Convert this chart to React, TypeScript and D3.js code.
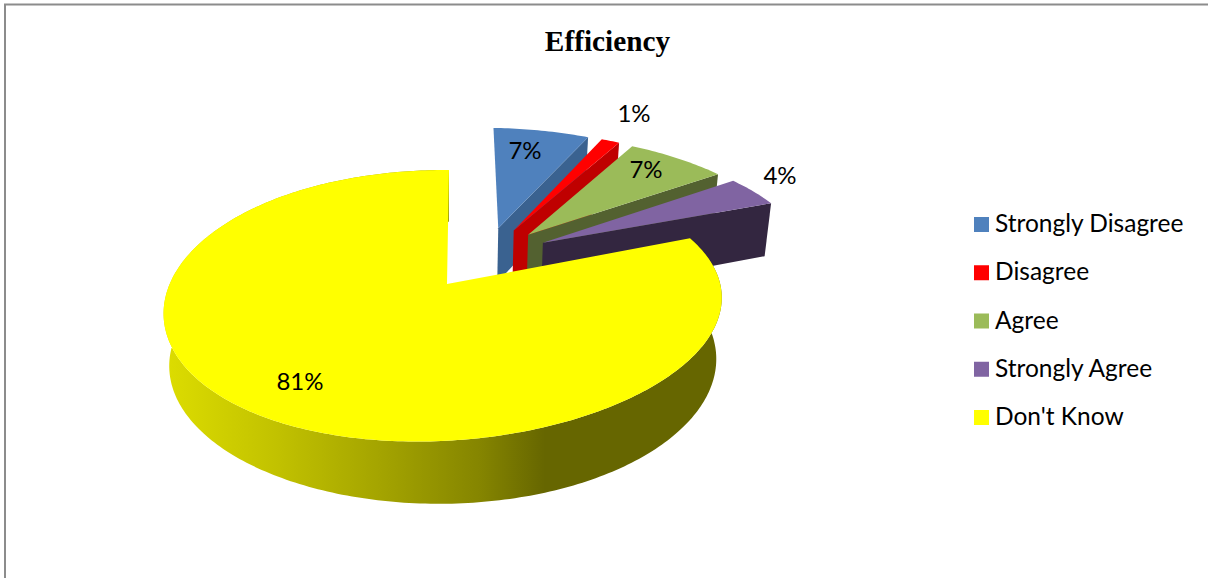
import * as d3 from 'd3';

const categories = ['Strongly Disagree', 'Disagree', 'Agree', 'Strongly Agree', "Don't Know"];
const shares = [6.8, 1.3, 7.2, 4.1, 80.6];
const labels = ['7%', '1%', '7%', '4%', '81%'];
const topColors = ['#4f81bd', '#ff0000', '#9bbb59', '#8064a2', '#ffff00'];
const wallColors = ['#3a6290', '#bf0000', '#536130', '#332640', 'url(#rim)'];
const labelSpots = [[525, 149.5], [634, 112.5], [646, 168.5], [780, 174.5], [300, 380.5]];
const rimStops = [
  [168, '#dcdc00'], [275, '#c2c200'], [380, '#a4a400'], [480, '#858500'], [545, '#666600'], [722, '#666600'],
];

const width = 1208;
const height = 578;

// view of the pie plane, origin on the apex of the big slice
const view = { x0: 447, y0: 284, a: 275.5, b: 132, k: 0.1586, j: -0.014, shear: -2.3, tilt: -5.5 };
const drop = { sx: 0.98, sy: 1.042, dy: 56.4, roll: 0.025 };
const explode = 0.25;
const smallReach = 1.015;

function project(u: number, v: number): [number, number] {
  const w = 1 - view.k * v - view.j * u;
  return [
    view.x0 + (view.a * u + view.shear * v) / w,
    view.y0 + (view.b * v + view.tilt * u * (1 + v)) / w,
  ];
}

function lower([x, y]: [number, number]): [number, number] {
  const dx = x - view.x0;
  const dy = y - view.y0;
  const lift = drop.roll * dx * Math.max(0, (dy + 80) / 150);
  return [view.x0 + dx * drop.sx, view.y0 + dy * drop.sy + drop.dy + lift];
}

const pie = d3.pie<number>().sort(null).value((d) => d);
const arcs = pie(shares);
const line = d3.line();

const last = arcs[arcs.length - 1];
const lastMid = (last.startAngle + last.endAngle) / 2;
const hub: [number, number] = [-explode * Math.sin(lastMid), explode * Math.cos(lastMid)];

const legendY = d3.scalePoint<string>().domain(categories).range([224.5, 417.5]);

function slicePaths(d: d3.PieArcDatum<number>, reach: number) {
  const mid = (d.startAngle + d.endAngle) / 2;
  const cu = hub[0] + explode * Math.sin(mid);
  const cv = hub[1] - explode * Math.cos(mid);
  const steps = Math.max(8, Math.ceil((d.endAngle - d.startAngle) * 60));
  const rimTop = d3.range(steps + 1).map((i) => {
    const t = d.startAngle + ((d.endAngle - d.startAngle) * i) / steps;
    return project(cu + reach * Math.sin(t), cv - reach * Math.cos(t));
  });
  const apex = project(cu, cv);
  const corner = rimTop[rimTop.length - 1];
  return {
    top: line([apex, ...rimTop])! + 'Z',
    rim: line([...rimTop, ...rimTop.map(lower).reverse()])! + 'Z',
    side: line([apex, corner, lower(corner), lower(apex)])! + 'Z',
  };
}

export default function App() {
  return (
    <svg width={width} height={height} style={{ position: 'absolute', left: 0, top: 0, background: '#fff' }}>
      <defs>
        <linearGradient id="rim" gradientUnits="userSpaceOnUse" x1={168} x2={722} y1={0} y2={0}>
          {rimStops.map(([x, c], i) => (
            <stop key={i} offset={((x as number) - 168) / (722 - 168)} stopColor={c as string} />
          ))}
        </linearGradient>
      </defs>

      <path d={`M5,${height}V4.5H${width}`} fill="none" stroke="#8c8c8c" strokeWidth={2} />

      <text x={607.5} y={51} textAnchor="middle" fontFamily="'Liberation Serif'" fontWeight="bold" fontSize={29.3}>
        Efficiency
      </text>

      {arcs.map((d, i) => {
        const isBig = i === arcs.length - 1;
        const p = slicePaths(d, isBig ? 1 : smallReach);
        return (
          <g key={categories[i]}>
            {isBig ? <path d={p.rim} fill={wallColors[i]} /> : <path d={p.side} fill={wallColors[i]} />}
            <path d={p.top} fill={topColors[i]} />
          </g>
        );
      })}

      {labels.map((t, i) => (
        <text key={i} x={labelSpots[i][0]} y={labelSpots[i][1]} textAnchor="middle" dominantBaseline="central"
          fontFamily="Lato" fontSize={24} fill="#000">
          {t}
        </text>
      ))}

      {categories.map((c, i) => (
        <g key={c}>
          <rect x={974} y={legendY(c)! - 7.5} width={15} height={15} fill={topColors[i]} />
          <text x={995} y={legendY(c)! - 2} dominantBaseline="central" fontFamily="Lato" fontSize={24.5} fill="#000">
            {c}
          </text>
        </g>
      ))}
    </svg>
  );
}
